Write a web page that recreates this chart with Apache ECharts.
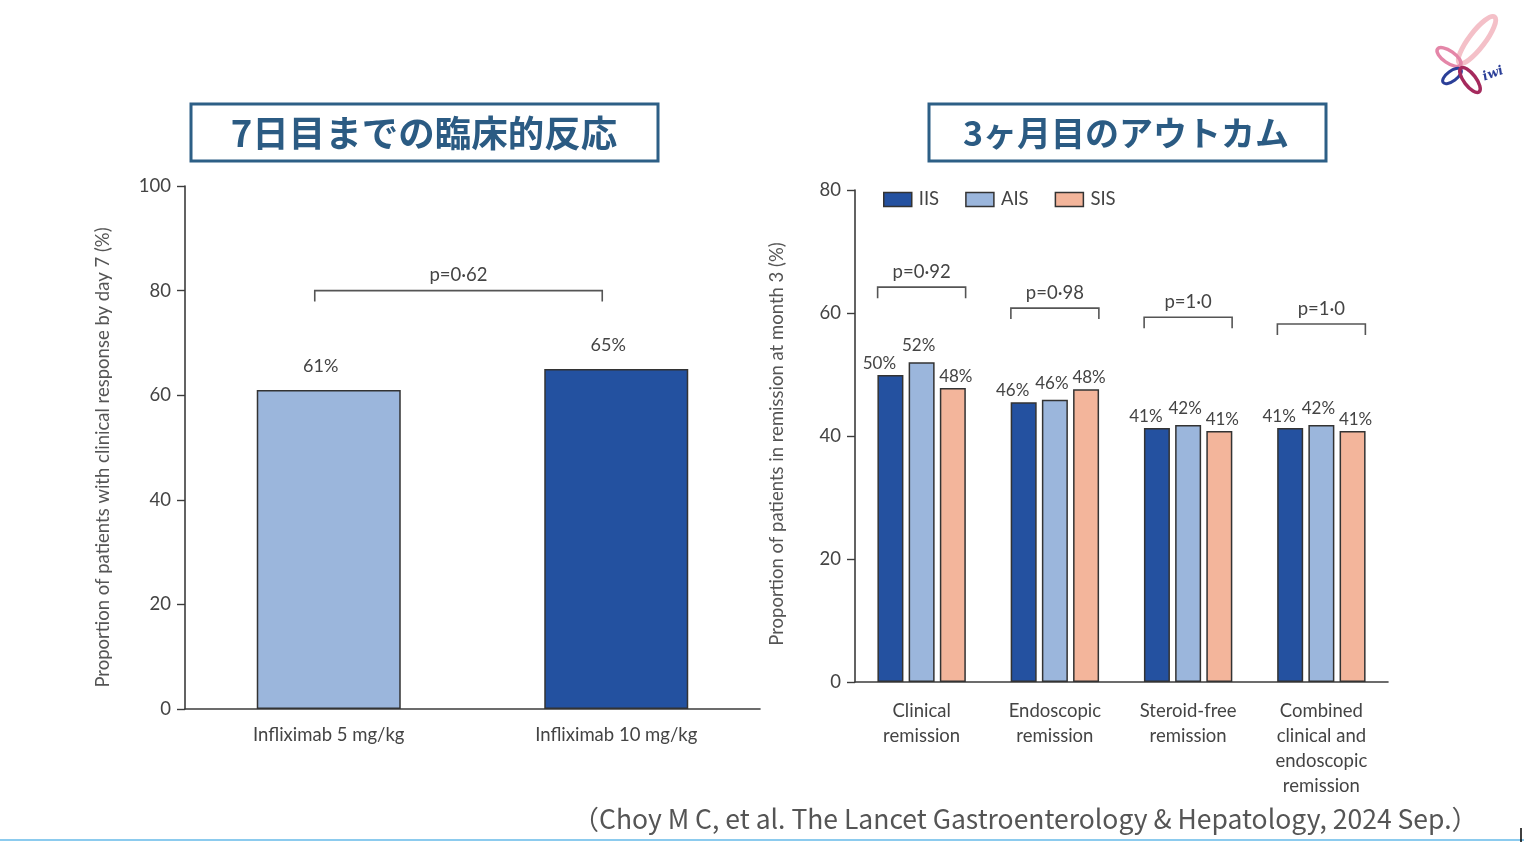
<!DOCTYPE html>
<html>
<head>
<meta charset="utf-8">
<script src="https://cdn.jsdelivr.net/npm/echarts@6/dist/echarts.min.js"></script>
<style>
  html, body { margin: 0; padding: 0; background: #fff; }
  #main { width: 1524px; height: 842px; }
</style>
</head>
<body>
<div id="main"></div>
<script>
// 左: 7日目までの臨床的反応
const doseCategories = ['Infliximab 5 mg/kg', 'Infliximab 10 mg/kg'];
const day7Response = [61, 65];
const day7PLabels = ['p=0·62'];
const day7Brackets = [[0, 1, 80]]; // [from category, to category, y]

// 右: 3ヶ月目のアウトカム
const outcomeCategories = [
  'Clinical\nremission',
  'Endoscopic\nremission',
  'Steroid-free\nremission',
  'Combined\nclinical and\nendoscopic\nremission'
];
const iisValues = [49.9, 45.5, 41.3, 41.3];
const aisValues = [52.0, 45.9, 41.8, 41.8];
const sisValues = [47.8, 47.6, 40.8, 40.8];
const outcomePLabels = ['p=0·92', 'p=0·98', 'p=1·0', 'p=1·0'];
const outcomeBracketY = [64.2, 60.8, 59.3, 58.2];

const FONT = 'Lato';
const AXIS_COLOR = '#3c3c3c';
const TEXT_COLOR = '#444';
const day7Colors = ['#9bb6dc', '#2351a0'];

const chart = echarts.init(document.getElementById('main'));

// p値の括弧
function bracketRenderer(labels, halfSpan, shiftX) {
  return function (params, api) {
    const a = api.coord([api.value(0), api.value(2)]);
    const b = api.coord([api.value(1), api.value(2)]);
    const x0 = a[0] + shiftX - halfSpan;
    const x1 = b[0] + shiftX + halfSpan;
    const y = a[1];
    return {
      type: 'group',
      children: [
        {
          type: 'polyline',
          shape: { points: [[x0, y + 11], [x0, y], [x1, y], [x1, y + 11]] },
          style: { stroke: '#555', lineWidth: 1.6, fill: null }
        },
        {
          type: 'text',
          style: {
            text: labels[params.dataIndex],
            x: (x0 + x1) / 2, y: y - 6,
            align: 'center', verticalAlign: 'bottom',
            fill: TEXT_COLOR, font: '18.5px ' + FONT
          }
        }
      ]
    };
  };
}

function valueAxis(gridIndex, max, name, gap, shift) {
  return {
    type: 'value', gridIndex: gridIndex, min: 0, max: max, interval: 20,
    name: name, nameLocation: 'middle', nameGap: gap,
    nameTextStyle: { fontFamily: FONT, fontSize: 18.5, color: '#555', padding: [0, shift, 0, 0] },
    axisLine: { show: true, lineStyle: { color: AXIS_COLOR, width: 1.6 } },
    axisTick: { show: true, length: 8, lineStyle: { color: AXIS_COLOR, width: 1.4 } },
    axisLabel: { fontFamily: FONT, fontSize: 18.5, color: TEXT_COLOR, margin: 14 },
    splitLine: { show: false }
  };
}

function categoryAxis(gridIndex, data, margin) {
  return {
    type: 'category', gridIndex: gridIndex, data: data,
    axisLine: { lineStyle: { color: AXIS_COLOR, width: 1.6 } },
    axisTick: { length: 9, lineStyle: { color: AXIS_COLOR, width: 1.4 } },
    axisLabel: { fontFamily: FONT, fontSize: 18.5, color: TEXT_COLOR, margin: margin, lineHeight: 25, interval: 0 }
  };
}

function outcomeSeries(name, values, color, offsetX, dist) {
  return {
    name: name, type: 'bar', xAxisIndex: 1, yAxisIndex: 1,
    data: values, barWidth: 26, barGap: '20%',
    itemStyle: { color: color, borderColor: '#333', borderWidth: 1.5 },
    label: {
      show: true, position: 'top', distance: dist, offset: [offsetX, 0],
      fontFamily: FONT, fontSize: 17, color: TEXT_COLOR,
      formatter: p => Math.round(p.value) + '%'
    }
  };
}

const option = {
  animation: false,
  backgroundColor: '#fff',
  grid: [
    { left: 185, top: 186, width: 575, height: 523 },
    { left: 855, top: 190, width: 533, height: 492 }
  ],
  legend: {
    data: ['IIS', 'AIS', 'SIS'],
    left: 878, top: 185,
    itemWidth: 28, itemHeight: 14, itemGap: 26,
    icon: 'rect',
    itemStyle: { borderColor: '#333', borderWidth: 1.5 },
    textStyle: { fontFamily: FONT, fontSize: 18.5, color: TEXT_COLOR, padding: [0, 0, 0, 2] }
  },
  xAxis: [
    categoryAxis(0, doseCategories, 14),
    categoryAxis(1, outcomeCategories, 17)
  ],
  yAxis: [
    valueAxis(0, 100, 'Proportion of patients with clinical response by day 7 (%)', 72, 20),
    valueAxis(1, 80, 'Proportion of patients in remission at month 3 (%)', 68, 16)
  ],
  series: [
    {
      name: 'day7', type: 'bar', xAxisIndex: 0, yAxisIndex: 0,
      barWidth: 144,
      data: day7Response.map((v, i) => ({ value: v, itemStyle: { color: day7Colors[i] } })),
      itemStyle: { borderColor: '#333', borderWidth: 1.5 },
      label: {
        show: true, position: 'top', distance: 15, offset: [-8, 0],
        fontFamily: FONT, fontSize: 18, color: TEXT_COLOR,
        formatter: p => p.value + '%'
      }
    },
    outcomeSeries('IIS', iisValues, '#2451a0', -11, 3),
    outcomeSeries('AIS', aisValues, '#9bb6dc', -3, 8),
    outcomeSeries('SIS', sisValues, '#f3b59b', 3, 3),
    {
      type: 'custom', xAxisIndex: 0, yAxisIndex: 0,
      encode: { x: [0, 1], y: 2 },
      data: day7Brackets,
      renderItem: bracketRenderer(day7PLabels, 0, -14),
      z: 5
    },
    {
      type: 'custom', xAxisIndex: 1, yAxisIndex: 1,
      encode: { x: [0, 1], y: 2 },
      data: outcomeBracketY.map((y, i) => [i, i, y]),
      renderItem: bracketRenderer(outcomePLabels, 44, 0),
      z: 5
    }
  ],
  graphic: [
    // タイトル枠
    { type: 'rect', shape: { x: 191, y: 104, width: 467, height: 57 }, style: { fill: '#fff', stroke: '#2d5f86', lineWidth: 3 } },
    { type: 'text', x: 424, y: 133, style: { text: '7日目までの臨床的反応', font: 'bold 36.5px "Noto Sans CJK JP"', fill: '#2b5b83', align: 'center', verticalAlign: 'middle' } },
    { type: 'rect', shape: { x: 929, y: 104, width: 397, height: 57 }, style: { fill: '#fff', stroke: '#2d5f86', lineWidth: 3 } },
    { type: 'text', x: 1126, y: 133, style: { text: '3ヶ月目のアウトカム', font: 'bold 34px "Noto Sans CJK JP"', fill: '#2b5b83', align: 'center', verticalAlign: 'middle' } },
    // 出典
    { type: 'text', x: 1478, y: 819, style: { text: '（Choy M C, et al. The Lancet Gastroenterology & Hepatology, 2024 Sep.）', font: '26.5px "Noto Sans CJK JP"', fill: '#555', align: 'right', verticalAlign: 'middle' } },
    { type: 'line', shape: { x1: 0, y1: 840, x2: 1524, y2: 840 }, style: { stroke: '#8ccbee', lineWidth: 2 } },
    { type: 'line', shape: { x1: 1521, y1: 828, x2: 1521, y2: 842 }, style: { stroke: '#000', lineWidth: 1.5 } },
    // ロゴ
    { type: 'ellipse', x: 1477, y: 40, rotation: -0.65, shape: { cx: 0, cy: 0, rx: 8, ry: 29 }, style: { fill: null, stroke: '#f4c0c8', lineWidth: 5 } },
    { type: 'ellipse', x: 1449, y: 57, rotation: -0.61, shape: { cx: 0, cy: 0, rx: 14, ry: 6 }, style: { fill: null, stroke: '#e486a8', lineWidth: 3.5 } },
    { type: 'ellipse', x: 1452, y: 76, rotation: 0.63, shape: { cx: 0, cy: 0, rx: 11, ry: 5 }, style: { fill: null, stroke: '#2b3f98', lineWidth: 3 } },
    { type: 'ellipse', x: 1470, y: 80, rotation: 0.65, shape: { cx: 0, cy: 0, rx: 6, ry: 15 }, style: { fill: null, stroke: '#a52a5d', lineWidth: 3.5 } },
    { type: 'text', x: 1493, y: 74, rotation: 0.35, style: { text: 'iwi', font: 'italic bold 13px "DejaVu Serif"', fill: '#2b3f98', align: 'center', verticalAlign: 'middle' } }
  ]
};

chart.setOption(option);
</script>
</body>
</html>
